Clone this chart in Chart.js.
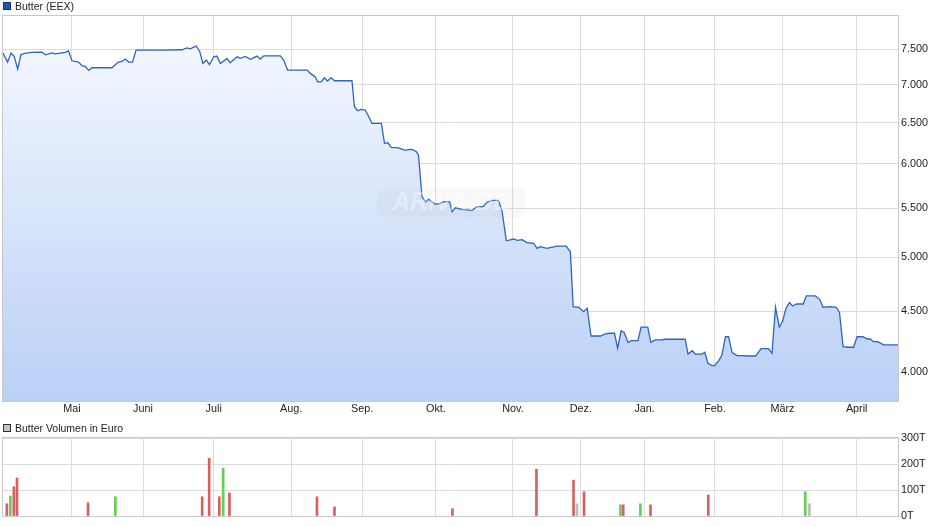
<!DOCTYPE html>
<html>
<head>
<meta charset="utf-8">
<script src="https://cdn.jsdelivr.net/npm/chart.js@4.4.1/dist/chart.umd.min.js"></script>
<style>
  body { margin: 0; background: #fff; font-family: "Liberation Sans", Arial, sans-serif; }
  #wrap { position: relative; width: 940px; height: 526px; overflow: hidden; }
  .legend { position: absolute; left: 3px; font-size: 10.5px; color: #222; line-height: 12px; white-space: nowrap; }
  .legend i { display: inline-block; width: 6px; height: 6px; border: 1px solid #333; margin-right: 4px; vertical-align: 0; }
  #top { position: absolute; left: 0; top: 0; }
  #bot { position: absolute; left: 0; top: 420px; }
</style>
</head>
<body>
<div id="wrap">
  <canvas id="top" width="940" height="420"></canvas>
  <canvas id="bot" width="940" height="106"></canvas>
  <div class="legend" style="top:0px"><i style="background:#1f55b8;border-color:#1a2f66"></i>Butter (EEX)</div>
  <div class="legend" style="top:422px"><i style="background:#c4c4c4"></i>Butter Volumen in Euro</div>
</div>
<script>
// trading day index (0 = mid April) and EEX butter price in EUR/t
const priceDays = [0,1.3,2.3,3.2,4.2,5.1,6.1,8.3,11.1,12.1,
  14,14.9,16.4,17.8,18.7,19.7,21.6,22.6,23.5,24.5,
  25.4,31.1,33,34,34.9,35.9,37,38,45.8,51.1,
  52.6,53.5,55.2,56.2,57.1,58.1,59,60.2,61.1,62.1,
  64,64.9,66.9,67.8,69.2,70.7,72.6,73.5,74.5,79.2,
  80.2,81.3,86.9,87.8,89.2,89.9,90.9,91.8,92.7,93.7,
  94.7,99.7,100.4,101.3,102.3,103.5,104.5,105.4,108.1,109,
  110,110.9,113,114.7,116.9,118.1,118.7,119.7,120.7,121.6,
  123.5,124.9,125.9,127.6,128.3,129.2,131.1,134,135.4,137.1,
  138.3,139.7,141.6,142.6,143.8,145.9,146.9,148.3,149.7,151.6,
  152.6,153.5,155.4,158.3,160.9,162.1,162.9,164.5,165.9,166.9,
  168,170.7,172.1,173.3,174.7,175.6,176.6,177.5,178.6,179.5,
  181.4,182.3,184.2,185.1,186.4,188.3,189.2,194.9,195.7,196.9,
  197.8,199.7,200.5,201.4,202.6,203.3,204.5,205.4,206.4,207.3,
  208.3,209.7,211.1,212.6,215,216.6,218.7,219.7,220.7,221.8,
  222.7,223.7,224.7,225.6,226.7,228.6,229.5,232.1,233.3,234.3,
  236.4,238.1,239,240,241.6,243,244,245.7,246.9,247.8,
  248.7,249.9,251.6,255.7];
const priceValues = [7442,7313,7442,7394,7214,7418,7438,7452,7457,7418,
  7446,7432,7442,7452,7475,7332,7313,7260,7252,7196,
  7233,7233,7313,7323,7356,7313,7313,7486,7486,7491,
  7519,7505,7544,7467,7294,7342,7275,7389,7399,7294,
  7366,7303,7389,7366,7394,7352,7399,7356,7403,7403,
  7342,7200,7200,7154,7106,7038,7038,7093,7048,7093,
  7052,7052,6704,6652,6670,6661,6575,6490,6490,6243,
  6250,6194,6189,6162,6170,6142,6102,5626,5572,5598,
  5544,5555,5572,5572,5465,5507,5490,5479,5518,5518,
  5566,5587,5587,5465,5164,5182,5169,5175,5145,5138,
  5089,5105,5089,5111,5111,5055,4542,4537,4498,4528,
  4290,4290,4307,4313,4313,4189,4335,4318,4235,4251,
  4251,4364,4364,4238,4257,4257,4263,4263,4142,4169,
  4142,4142,4156,4068,4050,4050,4089,4134,4284,4284,
  4153,4129,4129,4126,4126,4186,4186,4148,4537,4364,
  4412,4528,4578,4548,4566,4566,4638,4638,4608,4537,
  4542,4537,4489,4202,4197,4197,4284,4284,4265,4265,
  4243,4243,4216,4216];

// traded volume in euro, split by price direction of the day
const volDownDays = [1.1,3.1,4,24.3,56.9,58.9,61.8,64.7,89.7,94.7,128.4,152.4,163,166,177.2,185,201.5];
const volDown = [47000,112000,146000,51000,74000,222000,74000,89000,74000,35000,28000,180000,138000,93000,43000,43000,81000];
const volUpDays = [2.1,32.1,62.9,176.4,182.1,229.2];
const volUp = [77000,74000,184000,43000,47000,93000];
const volFlatDays = [164,230.4];
const volFlat = [47000,47000];

const monthDays = [19.7,40,60.2,82.3,102.6,123.7,145.7,165.1,183.3,203.4,222.7,243.9];
const monthLabels = ["Mai","Juni","Juli","Aug.","Sep.","Okt.","Nov.","Dez.","Jan.","Feb.","März","April"];
const priceTicks = [4000,4500,5000,5500,6000,6500,7000,7500];
const volTicks = [0,100000,200000,300000];
const dayMax = 255.7;

const FONT = { family: "'Liberation Sans', Arial, sans-serif", size: 10.8 };
const GRID = "#dcdcdc";
const EDGE = "#c8c8c8";

function fmt(v) {
  return String(v).replace(/\B(?=(\d{3})+(?!\d))/g, ".");
}
function toPoints(xs, ys) {
  return xs.map((x, i) => ({ x: x, y: ys[i] }));
}

// thin box around the plot area
const frame = {
  id: "frame",
  afterDraw(chart) {
    const a = chart.chartArea, c = chart.ctx;
    c.save();
    c.strokeStyle = EDGE;
    c.lineWidth = 1;
    c.strokeRect(Math.round(a.left) - 0.5, Math.round(a.top) - 0.5,
      Math.round(a.right - a.left) + 1, Math.round(a.bottom - a.top) + 1);
    c.restore();
  }
};

// faint site logo in the middle of the price chart
const watermark = {
  id: "watermark",
  afterDatasetsDraw(chart) {
    const a = chart.chartArea, c = chart.ctx;
    const cx = (a.left + a.right) / 2 + 0.5, cy = (a.top + a.bottom) / 2 - 6;
    c.save();
    c.fillStyle = "rgba(185,190,200,0.10)";
    c.beginPath();
    c.roundRect(cx - 74, cy - 15, 148, 30, 9);
    c.fill();
    c.font = "italic bold 25px 'Liberation Sans', Arial, sans-serif";
    c.fillStyle = "rgba(255,255,255,0.35)";
    c.textAlign = "center";
    c.textBaseline = "middle";
    c.fillText("ARIVA.DE", cx, cy + 1);
    c.restore();
  }
};

new Chart(document.getElementById("top"), {
  type: "line",
  data: {
    datasets: [{
      label: "Butter (EEX)",
      data: toPoints(priceDays, priceValues),
      borderColor: "#2c64c6",
      borderWidth: 1.3,
      pointRadius: 0,
      tension: 0,
      fill: "start",
      backgroundColor: function (context) {
        const chart = context.chart;
        const a = chart.chartArea;
        if (!a) return "rgba(200,220,250,0.5)";
        const g = chart.ctx.createLinearGradient(0, a.top, 0, a.bottom);
        g.addColorStop(0, "rgb(247,250,255)");
        g.addColorStop(1, "rgb(186,208,246)");
        return g;
      }
    }]
  },
  options: {
    responsive: false,
    animation: false,
    layout: { padding: { top: 16, left: 3, right: 0, bottom: 0 } },
    plugins: { legend: { display: false }, tooltip: { enabled: false } },
    scales: {
      x: {
        type: "linear",
        min: 0,
        max: dayMax,
        offset: false,
        afterBuildTicks: s => { s.ticks = monthDays.map(v => ({ value: v })); },
        afterFit: s => { s.height = 19; },
        ticks: {
          autoSkip: false, maxRotation: 0, padding: 2, color: "#222", font: FONT,
          callback: (v, i) => monthLabels[i]
        },
        grid: { color: GRID, drawTicks: false, offset: false },
        border: { color: EDGE }
      },
      y: {
        type: "logarithmic",
        position: "right",
        min: 3780,
        max: 8000,
        afterBuildTicks: s => { s.ticks = priceTicks.map(v => ({ value: v })); },
        afterFit: s => { s.width = 42; },
        ticks: { padding: 3, color: "#222", font: FONT, callback: v => fmt(v) },
        grid: { color: GRID, drawTicks: false },
        border: { color: EDGE }
      }
    }
  },
  plugins: [watermark, frame]
});

new Chart(document.getElementById("bot"), {
  type: "bar",
  data: {
    datasets: [
      { label: "down", data: toPoints(volDownDays, volDown), backgroundColor: "#d95f5f" },
      { label: "up", data: toPoints(volUpDays, volUp), backgroundColor: "#62cf55" },
      { label: "flat", data: toPoints(volFlatDays, volFlat), backgroundColor: "#bcbcbc" }
    ]
  },
  options: {
    responsive: false,
    animation: false,
    datasets: { bar: { barThickness: 2, grouped: false } },
    layout: { padding: { top: 18, left: 3, right: 0, bottom: 0 } },
    plugins: { legend: { display: false }, tooltip: { enabled: false } },
    scales: {
      x: {
        type: "linear",
        min: 0,
        max: dayMax,
        offset: false,
        afterBuildTicks: s => { s.ticks = monthDays.map(v => ({ value: v })); },
        afterFit: s => { s.height = 10; },
        ticks: { display: false },
        grid: { color: GRID, drawTicks: false, offset: false },
        border: { color: EDGE }
      },
      y: {
        position: "right",
        min: 0,
        max: 300000,
        afterBuildTicks: s => { s.ticks = volTicks.map(v => ({ value: v })); },
        afterFit: s => { s.width = 42; },
        ticks: { padding: 3, color: "#222", font: FONT, callback: v => (v / 1000) + "T" },
        grid: { color: GRID, drawTicks: false },
        border: { color: EDGE }
      }
    }
  },
  plugins: [frame]
});
</script>
</body>
</html>
